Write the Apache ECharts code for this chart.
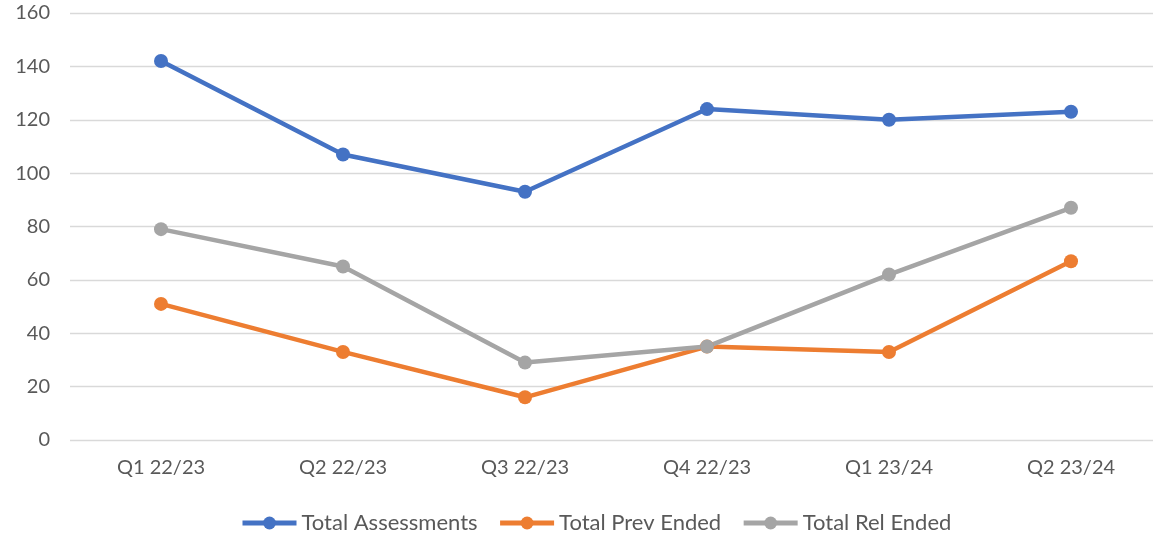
<!DOCTYPE html>
<html><head><meta charset="utf-8">
<script src="https://cdn.jsdelivr.net/npm/echarts@6/dist/echarts.min.js"></script>
<style>html,body{margin:0;padding:0;background:#fff}#c{width:1153px;height:535px}</style>
</head><body><div id="c"></div>
<script>
const categories = ['Q1 22/23','Q2 22/23','Q3 22/23','Q4 22/23','Q1 23/24','Q2 23/24'];
const totalAssessments = [142,107,93,124,120,123];
const totalPrevEnded = [51,33,16,35,33,67];
const totalRelEnded = [79,65,29,35,62,87];
const seriesNames = ['Total Assessments','Total Prev Ended','Total Rel Ended'];
const colors = ['#4472C4','#ED7D31','#A5A5A5'];
const font = 'Lato, "Open Sans", sans-serif';
const chart = echarts.init(document.getElementById('c'));
const mk = (name, data, color) => ({
  name, type:'line', data, color,
  symbol:'circle', symbolSize:14,
  lineStyle:{width:4.5, color}, itemStyle:{color},
  emphasis:{disabled:true}
});
chart.setOption({
  animation:false,
  grid:{left:70, width:1092, top:13, bottom:95, containLabel:false, outerBoundsMode:'none'},
  legend:{
    top:507, left:235,
    itemWidth:54, itemHeight:16, itemGap:20,
    textStyle:{color:'#595959', fontSize:22, fontFamily:font},
    lineStyle:{width:5},
    data:seriesNames
  },
  xAxis:{
    type:'category', data:categories, boundaryGap:true,
    axisLine:{show:false}, axisTick:{show:false},
    axisLabel:{color:'#595959', fontSize:20, fontFamily:font, margin:18}
  },
  yAxis:{
    type:'value', min:0, max:160, interval:20,
    axisLine:{show:false}, axisTick:{show:false},
    splitLine:{lineStyle:{color:'#D9D9D9', width:1.3}},
    axisLabel:{color:'#595959', fontSize:20, fontFamily:font, margin:20}
  },
  series:[
    mk(seriesNames[0], totalAssessments, colors[0]),
    mk(seriesNames[1], totalPrevEnded, colors[1]),
    mk(seriesNames[2], totalRelEnded, colors[2])
  ]
});
</script></body></html>
